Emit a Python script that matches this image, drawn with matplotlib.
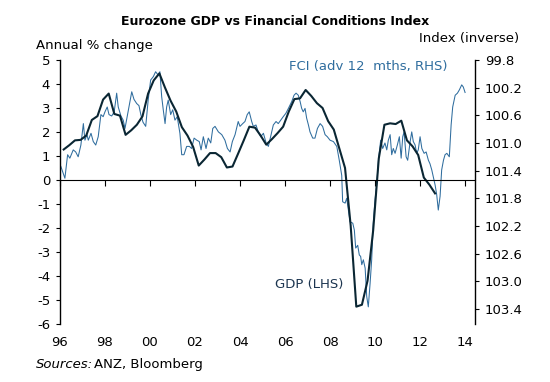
import numpy as np
import matplotlib
matplotlib.use("Agg")
import matplotlib.pyplot as plt

# GDP, annual % change, quarterly from Q1 1996 to Q3 2012 (LHS)
gdp_start = 1996 + 2 / 12
gdp = [1.27, 1.45, 1.65, 1.67, 1.85, 2.5, 2.66, 3.35, 3.6, 2.75, 2.68, 1.88,
       2.07, 2.3, 2.65, 3.6, 4.15, 4.44, 3.85, 3.3, 2.85, 2.2, 1.85, 1.38,
       0.6, 0.85, 1.12, 1.12, 0.95, 0.52, 0.56, 1.1, 1.65, 2.22, 2.18, 1.85,
       1.47, 1.7, 1.95, 2.22, 2.85, 3.37, 3.4, 3.75, 3.5, 3.2, 3.0, 2.45,
       2.1, 1.3, 0.5, -1.9, -5.28, -5.2, -4.2, -2.1, 0.9, 2.3, 2.36, 2.33,
       2.47, 1.65, 1.4, 1.04, 0.1, -0.2, -0.56]

# Financial conditions index, advanced 12 months (RHS, inverted)
fci_dates = [1996.04, 1996.22, 1996.34, 1996.44, 1996.59, 1996.70, 1996.81, 1996.93,
             1997.04, 1997.11, 1997.20, 1997.26, 1997.38, 1997.48, 1997.59, 1997.70,
             1997.82, 1997.92, 1998.00, 1998.10, 1998.18, 1998.30, 1998.41, 1998.52,
             1998.59, 1998.71, 1998.81, 1998.89, 1998.98, 1999.11, 1999.19, 1999.29,
             1999.41, 1999.51, 1999.60, 1999.69, 1999.81, 1999.92, 2000.03, 2000.15,
             2000.25, 2000.37, 2000.44, 2000.52, 2000.59, 2000.67, 2000.74, 2000.81,
             2000.92, 2001.01, 2001.11, 2001.21, 2001.33, 2001.41, 2001.51, 2001.63,
             2001.75, 2001.85, 2001.96, 2002.08, 2002.19, 2002.27, 2002.37, 2002.49,
             2002.59, 2002.70, 2002.79, 2002.89, 2003.04, 2003.19, 2003.33, 2003.44,
             2003.56, 2003.66, 2003.78, 2003.92, 2004.00, 2004.12, 2004.22, 2004.32,
             2004.41, 2004.52, 2004.59, 2004.71, 2004.81, 2004.92, 2005.04, 2005.16,
             2005.26, 2005.36, 2005.48, 2005.60, 2005.70, 2005.81, 2005.92, 2006.04,
             2006.15, 2006.30, 2006.40, 2006.49, 2006.59, 2006.67, 2006.74, 2006.81,
             2006.89, 2006.96, 2007.04, 2007.11, 2007.23, 2007.33, 2007.44, 2007.56,
             2007.67, 2007.78, 2007.88, 2008.00, 2008.15, 2008.30, 2008.41, 2008.52,
             2008.56, 2008.67, 2008.74, 2008.89, 2009.01, 2009.08, 2009.14, 2009.23,
             2009.30, 2009.36, 2009.41, 2009.48, 2009.56, 2009.63, 2009.70, 2009.78,
             2009.85, 2009.92, 2010.00, 2010.08, 2010.15, 2010.25, 2010.34, 2010.44,
             2010.52, 2010.59, 2010.67, 2010.74, 2010.81, 2010.89, 2010.99, 2011.08,
             2011.16, 2011.23, 2011.29, 2011.38, 2011.45, 2011.56, 2011.63, 2011.70,
             2011.78, 2011.85, 2011.92, 2012.00, 2012.08, 2012.18, 2012.27, 2012.37,
             2012.44, 2012.52, 2012.59, 2012.67, 2012.74, 2012.81, 2012.89, 2012.96,
             2013.04, 2013.11, 2013.19, 2013.30, 2013.38, 2013.45, 2013.56, 2013.66,
             2013.75, 2013.85, 2013.92, 2014.00]
fci = [101.34, 101.51, 101.17, 101.22, 101.10, 101.13, 101.20, 101.03,
       100.72, 100.96, 100.88, 100.96, 100.86, 100.98, 101.03, 100.91,
       100.59, 100.62, 100.55, 100.48, 100.59, 100.61, 100.55, 100.28,
       100.48, 100.61, 100.67, 100.79, 100.63, 100.39, 100.26, 100.37,
       100.43, 100.46, 100.60, 100.70, 100.76, 100.38, 100.09, 100.04,
       99.97, 100.02, 99.97, 100.33, 100.52, 100.72, 100.48, 100.38,
       100.59, 100.52, 100.67, 100.62, 100.86, 101.17, 101.17, 101.05,
       101.05, 101.08, 100.93, 100.96, 100.98, 101.10, 100.91, 101.08,
       100.93, 101.00, 100.79, 100.76, 100.84, 100.88, 100.96, 101.08,
       101.13, 100.98, 100.88, 100.69, 100.76, 100.72, 100.69, 100.59,
       100.55, 100.69, 100.76, 100.74, 100.84, 100.91, 100.86, 101.00,
       101.05, 100.91, 100.74, 100.69, 100.72, 100.67, 100.62, 100.57,
       100.50, 100.40, 100.31, 100.28, 100.31, 100.40, 100.50, 100.55,
       100.50, 100.64, 100.74, 100.84, 100.93, 100.93, 100.79, 100.72,
       100.76, 100.88, 100.91, 100.96, 100.98, 101.05, 101.25, 101.47,
       101.85, 101.87, 101.80, 102.14, 102.16, 102.26, 102.52, 102.48,
       102.62, 102.64, 102.76, 102.69, 102.81, 103.22, 103.37, 103.03,
       102.69, 102.16, 101.82, 101.58, 101.25, 100.96, 101.08, 101.00,
       101.10, 100.96, 100.88, 101.17, 101.08, 101.15, 101.03, 100.91,
       101.22, 100.91, 100.84, 101.20, 101.25, 100.98, 100.84, 100.98,
       101.03, 101.15, 101.10, 100.91, 101.08, 101.15, 101.13, 101.25,
       101.30, 101.39, 101.49, 101.61, 101.75, 101.97, 101.77, 101.39,
       101.25, 101.17, 101.15, 101.20, 100.74, 100.48, 100.31, 100.28,
       100.23, 100.16, 100.19, 100.27]

year_ticks = [1996, 1998, 2000, 2002, 2004, 2006, 2008, 2010, 2012, 2014]
year_labels = ["96", "98", "00", "02", "04", "06", "08", "10", "12", "14"]
left_ticks = [5, 4, 3, 2, 1, 0, -1, -2, -3, -4, -5, -6]
right_ticks = [99.8, 100.2, 100.6, 101.0, 101.4, 101.8, 102.2, 102.6, 103.0, 103.4]

gdp_dates = gdp_start + 0.25 * np.arange(len(gdp))

plt.rcParams["font.family"] = ["DejaVu Sans"]
fig = plt.figure(figsize=(5.5, 3.82), dpi=100)
ax = fig.add_axes([0.109, 0.152, 0.7546, 0.691])
ax2 = ax.twinx()

dark = "#0a2633"
blue = "#2f6d9e"

ax2.plot(fci_dates, fci, color=blue, lw=0.75)
ax.plot(gdp_dates, gdp, color=dark, lw=1.5)
ax.set_zorder(ax2.get_zorder() + 1)
ax.patch.set_visible(False)

ax.set_xlim(1996, 2014.44)
ax.set_ylim(-6, 5)
ax2.set_ylim(103.617, 99.8)

ax.set_yticks(left_ticks)
ax.set_yticklabels([str(t) for t in left_ticks])
ax2.set_yticks(right_ticks)
ax2.set_yticklabels([f"{t:.1f}" for t in right_ticks])

for s in ["top", "right"]:
    ax.spines[s].set_visible(False)
for s in ["top", "left", "bottom"]:
    ax2.spines[s].set_visible(False)
ax.spines["bottom"].set_position(("data", 0))
ax.spines["left"].set_linewidth(1.0)
ax2.spines["right"].set_linewidth(1.0)

ax.set_xticks(year_ticks)
ax.tick_params(axis="x", direction="out", length=4, labelbottom=False)
ax.tick_params(axis="y", direction="out", length=3, labelsize=9.5, pad=4)
ax2.tick_params(axis="y", direction="out", length=3, labelsize=9.5, pad=4)

sec = ax.secondary_xaxis("bottom")
sec.set_xticks(year_ticks)
sec.set_xticklabels(year_labels)
sec.tick_params(length=0, labelsize=9.5, pad=9)
sec.spines["bottom"].set_visible(False)

fig.text(0.5, 0.945, "Eurozone GDP vs Financial Conditions Index",
         ha="center", va="center", fontsize=9, fontweight="bold")
fig.text(0.065, 0.882, "Annual % change", ha="left", va="center", fontsize=9.5)
fig.text(0.943, 0.9, "Index (inverse)", ha="right", va="center", fontsize=9.5)
fig.text(0.525, 0.827, "FCI (adv 12  mths, RHS)", ha="left", va="center",
         fontsize=9.5, color=blue)
fig.text(0.5, 0.254, "GDP (LHS)", ha="left", va="center", fontsize=9.5,
         color="#1c3550")
fig.text(0.065, 0.045, "Sources:", ha="left", va="center", fontsize=9.5,
         style="italic")
fig.text(0.171, 0.045, "ANZ, Bloomberg", ha="left", va="center", fontsize=9.5)

fig.savefig("out.png", dpi=100)
